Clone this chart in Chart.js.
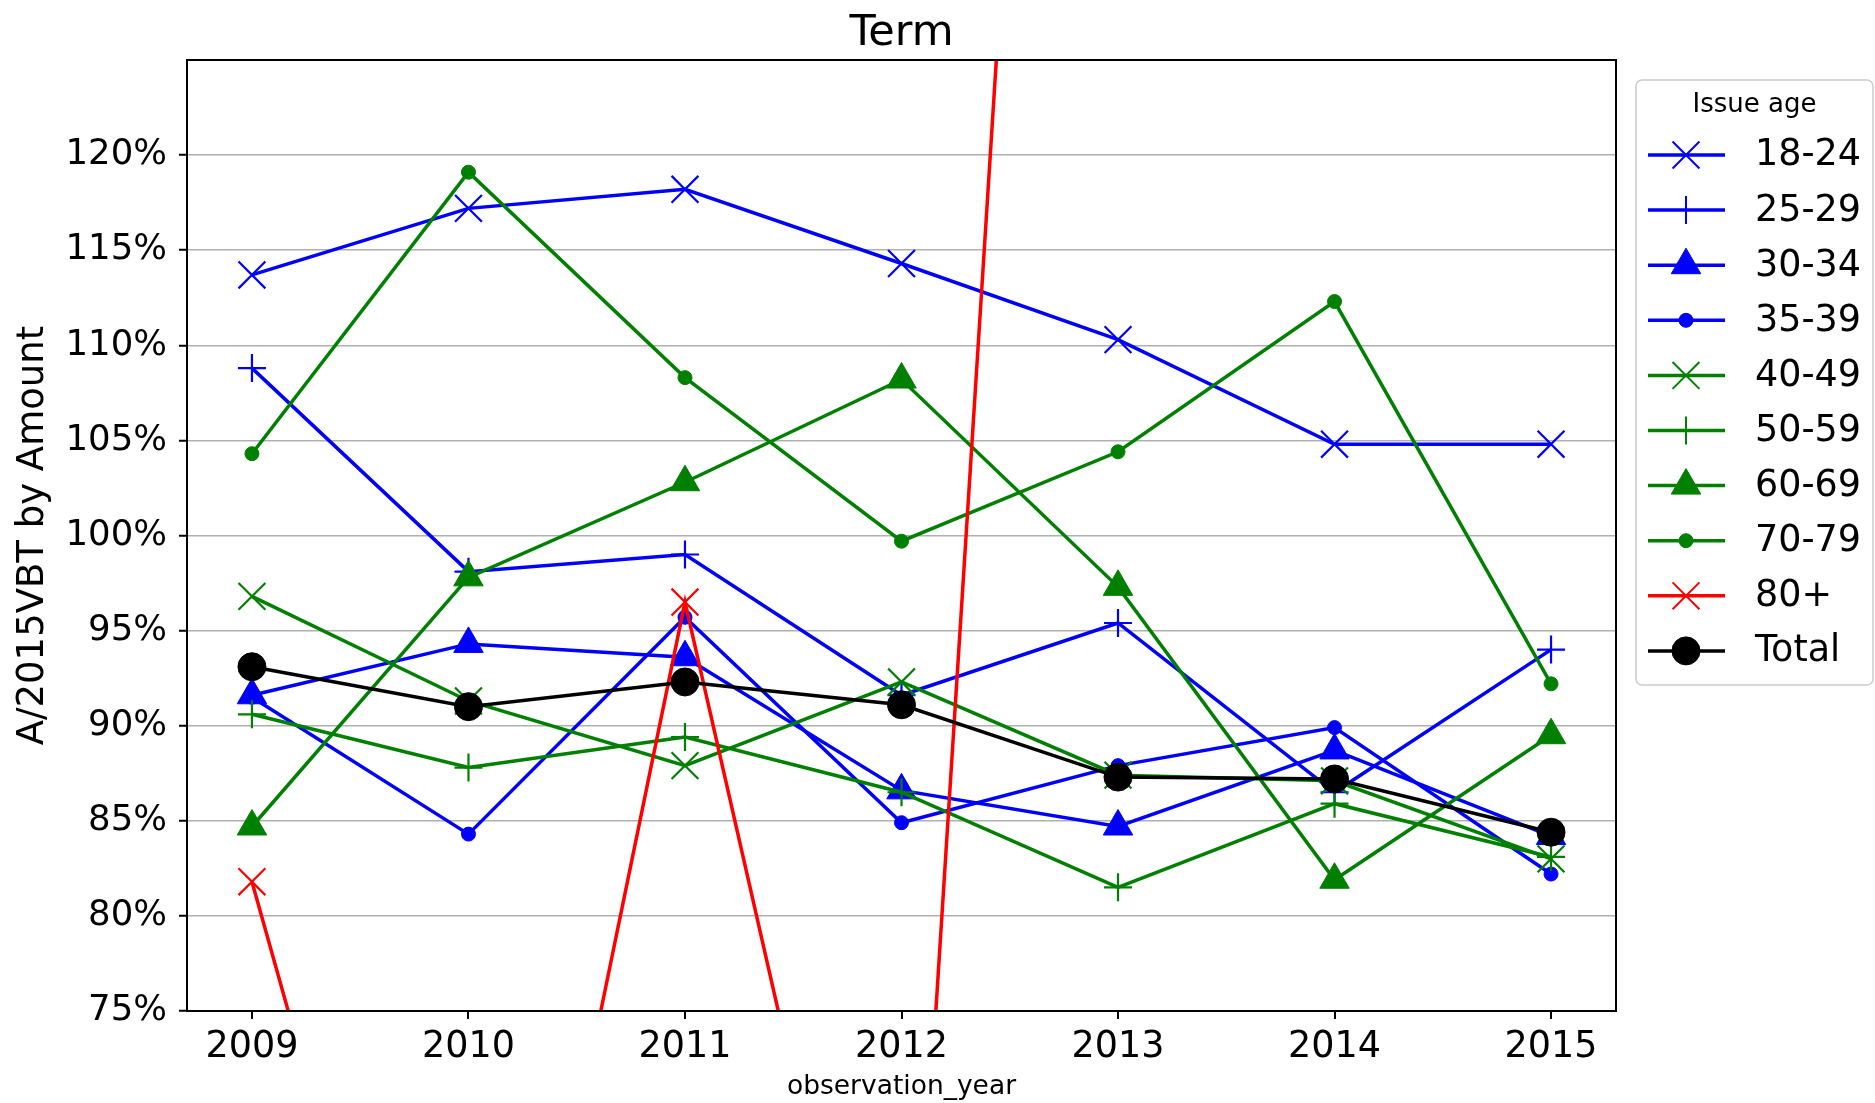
<!DOCTYPE html>
<html>
<head>
<meta charset="utf-8">
<script src="https://cdn.jsdelivr.net/npm/chart.js@4.4.0/dist/chart.umd.min.js"></script>
<style>
  html, body { margin: 0; padding: 0; background: #fff; }
</style>
</head>
<body>
<canvas id="chart" width="1875" height="1103"></canvas>
<script>
// values, in percent
const years = [2009, 2010, 2011, 2012, 2013, 2014, 2015];
const age18to24 = [113.7, 117.2, 118.2, 114.3, 110.3, 104.8, 104.8];
const age25to29 = [108.8, 98.1, 99.0, 91.6, 95.4, 86.5, 94.0];
const age30to34 = [91.6, 94.3, 93.6, 86.6, 84.7, 88.7, 84.2];
const age35to39 = [91.5, 84.3, 95.7, 84.9, 87.9, 89.9, 82.2];
const age40to49 = [96.8, 91.3, 87.9, 92.3, 87.4, 87.1, 83.0];
const age50to59 = [90.6, 87.8, 89.4, 86.5, 81.5, 85.9, 83.1];
const age60to69 = [84.7, 97.8, 102.8, 108.2, 97.3, 81.9, 89.5];
const age70to79 = [104.3, 119.1, 108.3, 99.7, 104.4, 112.3, 92.2];
const age80plus = [81.8, 41.2, 96.5, 46.6, 225.6, 190.0, 175.0]; // mostly off the chart
const total = [93.1, 91.0, 92.3, 91.1, 87.3, 87.2, 84.4];
const yTicks = [75, 80, 85, 90, 95, 100, 105, 110, 115, 120];

const series = [
    { label: '18-24', values: age18to24, color: '#0000ff', style: 'crossRot', radius: 19 },
    { label: '25-29', values: age25to29, color: '#0000ff', style: 'cross', radius: 14 },
    { label: '30-34', values: age30to34, color: '#0000ff', style: 'triangle', radius: 17 },
    { label: '35-39', values: age35to39, color: '#0000ff', style: 'circle', radius: 7 },
    { label: '40-49', values: age40to49, color: '#008000', style: 'crossRot', radius: 19 },
    { label: '50-59', values: age50to59, color: '#008000', style: 'cross', radius: 14 },
    { label: '60-69', values: age60to69, color: '#008000', style: 'triangle', radius: 17 },
    { label: '70-79', values: age70to79, color: '#008000', style: 'circle', radius: 7 },
    { label: '80+', values: age80plus, color: '#ff0000', style: 'crossRot', radius: 19 },
    { label: 'Total', values: total, color: '#000000', style: 'circle', radius: 14 }
];

const isCross = s => s === 'cross' || s === 'crossRot';
const font = 'DejaVu Sans';

const decor = {
    id: 'decor',
    afterDraw(chart) {
        const ctx = chart.ctx;
        const a = chart.chartArea;
        const cx = (a.left + a.right) / 2;
        ctx.save();

        // axes frame
        ctx.strokeStyle = '#000';
        ctx.lineWidth = 2;
        ctx.strokeRect(a.left, a.top, a.right - a.left, a.bottom - a.top);

        ctx.fillStyle = '#000';
        ctx.textAlign = 'center';
        ctx.textBaseline = 'alphabetic';
        ctx.font = `43px "${font}"`;
        ctx.fillText('Term', cx, 45);

        ctx.font = `26.5px "${font}"`;
        ctx.fillText('observation_year', cx, 1094);

        ctx.save();
        ctx.translate(43, (a.top + a.bottom) / 2);
        ctx.rotate(-Math.PI / 2);
        ctx.font = `37px "${font}"`;
        ctx.fillText('A/2015VBT by Amount', 0, 0);
        ctx.restore();

        // legend
        const bx = 1636, by = 80, bw = 237, bh = 605;
        ctx.beginPath();
        ctx.roundRect(bx, by, bw, bh, 6);
        ctx.fillStyle = 'rgba(255,255,255,0.8)';
        ctx.fill();
        ctx.strokeStyle = '#cccccc';
        ctx.lineWidth = 1.5;
        ctx.stroke();

        ctx.fillStyle = '#000';
        ctx.textAlign = 'center';
        ctx.textBaseline = 'middle';
        ctx.font = `26px "${font}"`;
        ctx.fillText('Issue age', bx + bw / 2, 105);

        series.forEach((s, i) => {
            const y = 155 + i * 55.1;
            ctx.strokeStyle = s.color;
            ctx.fillStyle = s.color;
            ctx.lineWidth = 3.5;
            ctx.beginPath();
            ctx.moveTo(1648, y);
            ctx.lineTo(1725, y);
            ctx.stroke();
            ctx.lineWidth = isCross(s.style) ? 2 : 1;
            Chart.helpers.drawPoint(ctx, {
                pointStyle: s.style,
                radius: s.radius,
                borderWidth: isCross(s.style) ? 2 : 1,
                rotation: 0
            }, 1686, y);

            ctx.fillStyle = '#000';
            ctx.textAlign = 'left';
            ctx.font = `36.5px "${font}"`;
            ctx.fillText(s.label, 1755, y + 1);
        });

        ctx.restore();
    }
};

new Chart(document.getElementById('chart'), {
    type: 'line',
    data: {
        datasets: series.map((s, i) => ({
            label: s.label,
            data: s.values.map((v, j) => ({ x: years[j], y: v })),
            borderColor: s.color,
            backgroundColor: s.color,
            borderWidth: 3.5,
            tension: 0,
            pointStyle: s.style,
            pointRadius: s.radius,
            pointHoverRadius: s.radius,
            pointBackgroundColor: s.color,
            pointBorderColor: s.color,
            pointBorderWidth: isCross(s.style) ? 2.2 : 1,
            order: series.length - i
        }))
    },
    options: {
        responsive: false,
        devicePixelRatio: 1,
        animation: false,
        layout: { padding: { top: 60, right: 259, bottom: 0, left: 0 } },
        plugins: {
            legend: { display: false },
            tooltip: { enabled: false }
        },
        scales: {
            x: {
                type: 'linear',
                min: 2008.7,
                max: 2015.3,
                afterBuildTicks: scale => { scale.ticks = years.map(v => ({ value: v })); },
                afterFit: scale => { scale.height = 92; },
                grid: { drawOnChartArea: false, color: '#000', tickColor: '#000', tickLength: 8, lineWidth: 2 },
                border: { display: false },
                ticks: {
                    font: { family: font, size: 36.5 },
                    color: '#000',
                    padding: 7,
                    maxRotation: 0,
                    autoSkip: false,
                    callback: v => String(v)
                }
            },
            y: {
                min: 75,
                max: 125,
                afterBuildTicks: scale => { scale.ticks = yTicks.map(v => ({ value: v })); },
                afterFit: scale => { scale.width = 187; },
                grid: { color: '#b0b0b0', lineWidth: 1.5, tickColor: '#000', tickLength: 8, tickWidth: 2 },
                border: { display: false },
                ticks: {
                    font: { family: font, size: 35.5 },
                    color: '#000',
                    padding: 12,
                    callback: v => v + '%'
                }
            }
        }
    },
    plugins: [decor]
});
</script>
</body>
</html>
